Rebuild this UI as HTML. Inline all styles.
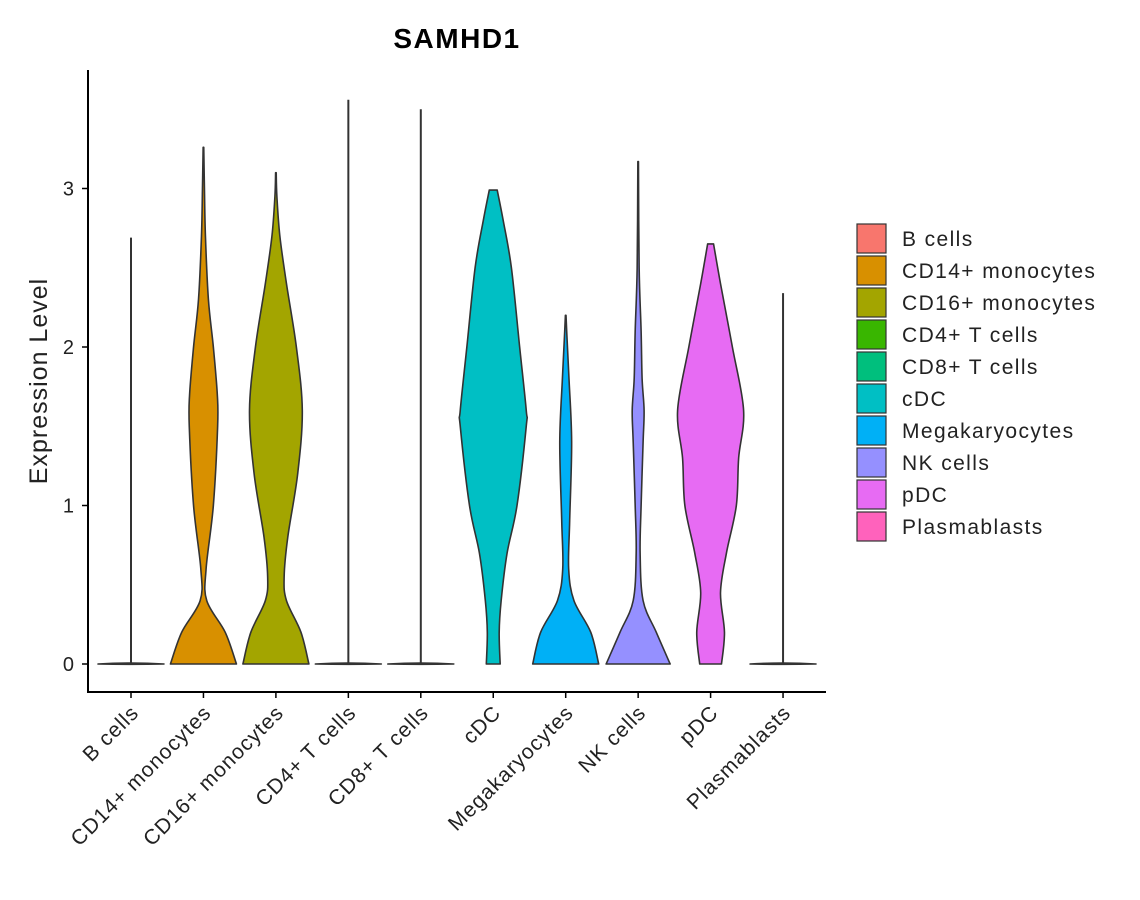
<!DOCTYPE html>
<html><head><meta charset="utf-8"><style>
body{margin:0;background:#fff;}
svg{display:block;font-family:"Liberation Sans","DejaVu Sans",sans-serif;}
</style></head><body>
<svg id="chart" width="1140" height="900">
<text x="457" y="48" text-anchor="middle" font-size="28" font-weight="bold" letter-spacing="1.5">SAMHD1</text>
<text transform="translate(47,381) rotate(-90)" text-anchor="middle" font-size="25" letter-spacing="1" fill="#222">Expression Level</text>
<g id="plot"></g>
<g id="legend"></g>
</svg>
<script>
const categories=["B cells","CD14+ monocytes","CD16+ monocytes","CD4+ T cells","CD8+ T cells","cDC","Megakaryocytes","NK cells","pDC","Plasmablasts"];
const colors=["#F8766D","#D89000","#A3A500","#39B600","#00BF7D","#00BFC4","#00B0F6","#9590FF","#E76BF3","#FF62BC"];
const yTicks=[0,1,2,3];
const maxVals=[2.69,3.26,3.1,3.56,3.5,2.99,2.2,3.17,2.65,2.34];
// density profiles: [value, relative half-width]
const profiles=[
 [[0,1],[0.02,0.05],[0.05,0.01]],
 [[0,1],[0.2,0.66],[0.4,0.1],[0.6,0.08],[1.0,0.3],[1.5,0.43],[1.7,0.42],[2.0,0.3],[2.3,0.15],[2.7,0.06],[3.0,0.03]],
 [[0,1],[0.2,0.76],[0.4,0.32],[0.55,0.25],[0.8,0.36],[1.2,0.66],[1.6,0.8],[2.0,0.62],[2.4,0.32],[2.7,0.12],[2.95,0.03]],
 [[0,1],[0.02,0.05],[0.05,0.01]],
 [[0,1],[0.02,0.05],[0.05,0.01]],
 [[0,0.21],[0.2,0.18],[0.4,0.24],[0.7,0.42],[1.0,0.72],[1.5,1],[1.6,1],[2.0,0.8],[2.5,0.55],[2.8,0.3],[2.99,0.12]],
 [[0,1],[0.2,0.76],[0.4,0.25],[0.6,0.09],[0.9,0.12],[1.4,0.18],[1.8,0.1],[2.1,0.03]],
 [[0,0.97],[0.2,0.55],[0.4,0.15],[0.7,0.06],[1.0,0.09],[1.4,0.15],[1.6,0.18],[1.8,0.12],[2.1,0.09],[2.5,0.03]],
 [[0,0.33],[0.2,0.42],[0.45,0.3],[0.7,0.48],[1.0,0.78],[1.3,0.85],[1.6,1],[2.0,0.66],[2.4,0.3],[2.65,0.09]],
 [[0,1],[0.02,0.05],[0.05,0.01]]
];
const NS="http://www.w3.org/2000/svg";
const x0=88,x1=826,yBot=692,yTop=70;
const xS=i=>131+i*72.45;
const yS=v=>664-v*158.5;
const HW=33;
const plot=document.getElementById('plot');
function mk(t,a,p){const e=document.createElementNS(NS,t);for(const k in a)e.setAttribute(k,a[k]);(p||plot).appendChild(e);return e;}
function cr(P){
  let d="";
  for(let k=0;k<P.length-1;k++){
    const p0=P[Math.max(k-1,0)],p1=P[k],p2=P[k+1],p3=P[Math.min(k+2,P.length-1)];
    const c1=[p1[0]+(p2[0]-p0[0])/6,p1[1]+(p2[1]-p0[1])/6];
    const c2=[p2[0]-(p3[0]-p1[0])/6,p2[1]-(p3[1]-p1[1])/6];
    d+=` C${c1[0]},${c1[1]} ${c2[0]},${c2[1]} ${p2[0]},${p2[1]}`;
  }
  return d;
}
categories.forEach((c,i)=>{
  const cx=xS(i),pr=profiles[i];
  const lastV=pr[pr.length-1][0];
  let r;
  if(lastV<0.1){
    const y0=yS(0),w=pr[0][1]*HW;
    r=`M${cx-w},${y0} Q${cx},${y0-2} ${cx+w},${y0} Q${cx},${y0+0.6} ${cx-w},${y0}Z`;
  } else {
    const pts=pr.map(([v,w])=>[yS(v),w*HW]);
    if(maxVals[i]>lastV+0.02 && pr[pr.length-1][1]<0.2) pts.push([yS(maxVals[i]),0.3]);
    const R=pts.map(p=>[cx+p[1],p[0]]);
    const L=pts.slice().reverse().map(p=>[cx-p[1],p[0]]);
    r="M"+R[0][0]+","+R[0][1]+cr(R)+" L"+L[0][0]+","+L[0][1]+cr(L)+"Z";
  }
  const g=mk('g',{});
  
  
  mk('path',{d:r,fill:colors[i],stroke:'#333','stroke-width':1.6,'stroke-linejoin':'round'},g);
  if(lastV<0.1) mk('line',{x1:cx,x2:cx,y1:yS(0),y2:yS(maxVals[i]),stroke:'#333','stroke-width':2},g);
  mk('line',{x1:cx,x2:cx,y1:yBot,y2:yBot+6,stroke:'#000','stroke-width':1.5});
  const t=mk('text',{transform:`translate(${cx+9},${yBot+22}) rotate(-45)`,'text-anchor':'end','font-size':21,'letter-spacing':'1',fill:'#222'});
  t.textContent=c;
  
  
});
yTicks.forEach(v=>{
  mk('line',{x1:x0-6,x2:x0,y1:yS(v),y2:yS(v),stroke:'#000','stroke-width':1.5});
  const t=mk('text',{x:x0-14,y:yS(v)+7,'text-anchor':'end','font-size':20,fill:'#222'});
  t.textContent=v;
  
  
});
const ax=mk('path',{d:`M${x0},${yTop} L${x0},${yBot} L${x1},${yBot}`,fill:'none',stroke:'#000','stroke-width':2});


const lg=document.getElementById('legend');
categories.forEach((c,i)=>{
  const y=224+i*32;
  const g=mk('g',{},lg);
  
  
  mk('rect',{x:857,y:y,width:29,height:29,fill:colors[i],stroke:'#333','stroke-width':1.2},g);
  const t=mk('text',{x:902,y:y+22,'font-size':21,'letter-spacing':'1.4',fill:'#222'},g);
  t.textContent=c;
});
</script>
</body></html>
